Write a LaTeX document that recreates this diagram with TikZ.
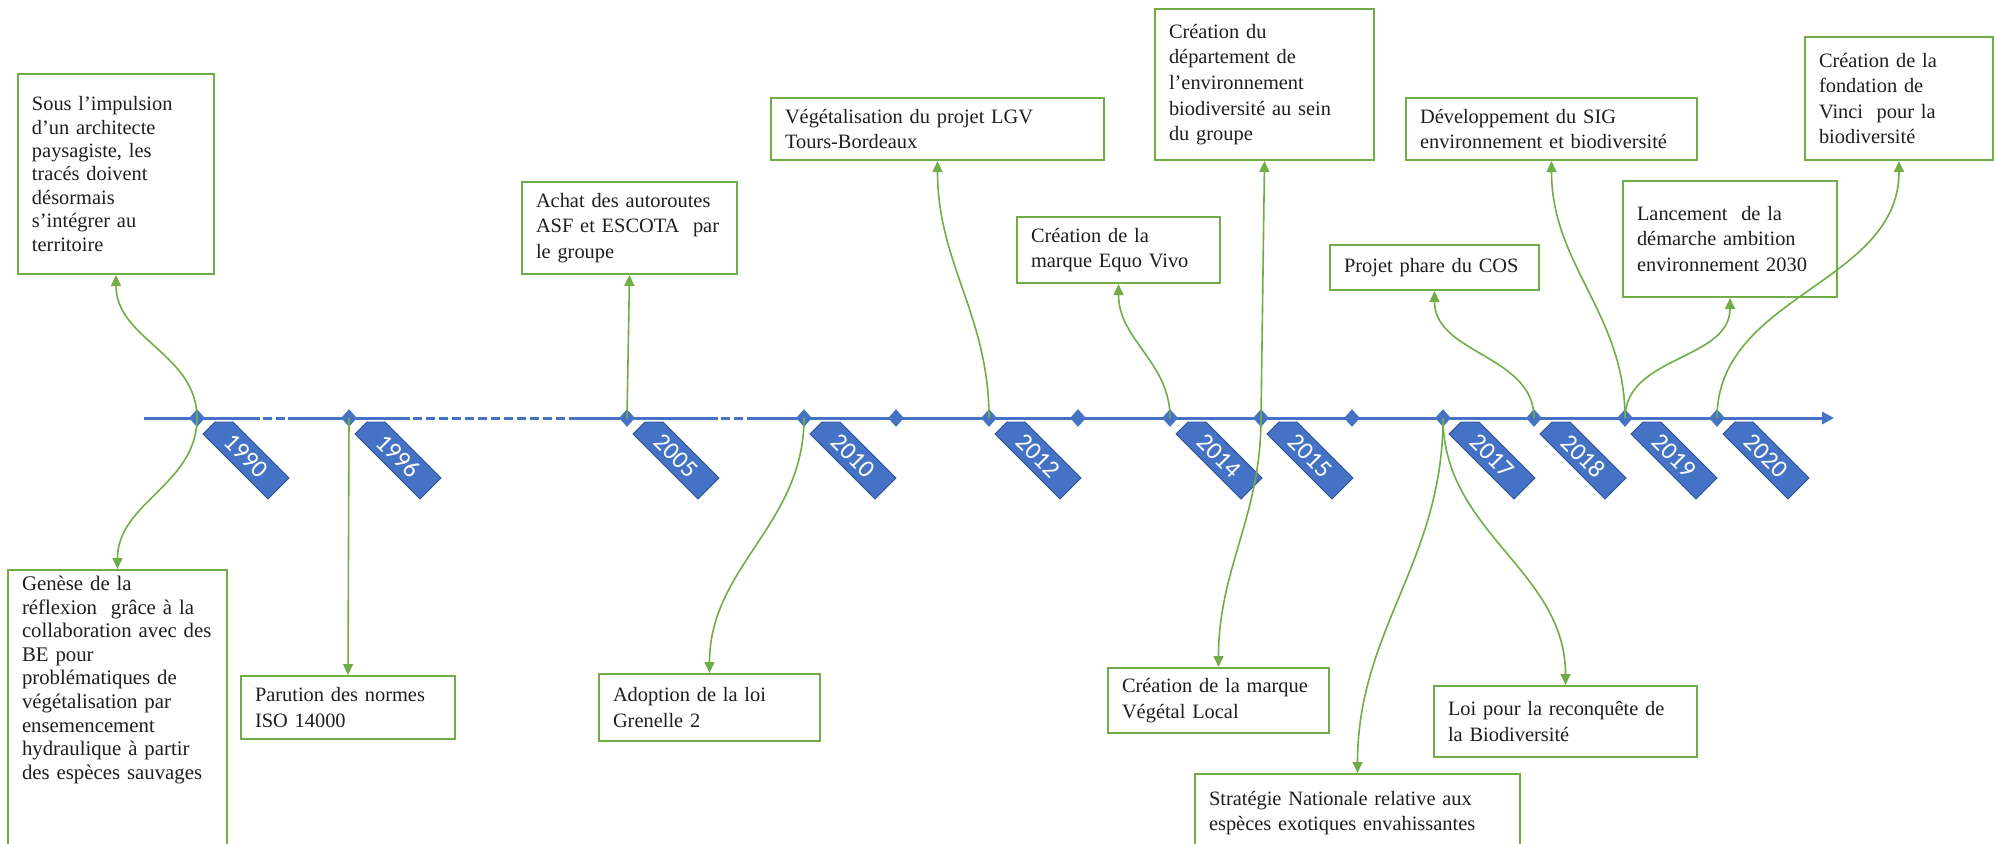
\documentclass[tikz,border=0pt]{standalone}
\usepackage{fontspec}
\setmainfont{Liberation Serif}
\newfontfamily\yearfont{Carlito}
\usetikzlibrary{shapes.geometric,arrows.meta}
\definecolor{axisblue}{HTML}{4472C4}
\definecolor{tagedge}{HTML}{2F528F}
\definecolor{leafgreen}{HTML}{70AD47}
\definecolor{inkgray}{HTML}{1E1E1E}
\tikzstyle{event} = [rectangle, draw=leafgreen, line width=1pt, fill=white,
    anchor=north west, inner xsep=7pt, inner ysep=4pt, align=left, text=inkgray,
    font=\fontsize{10.2}{12.8}\selectfont]
\tikzstyle{yeardot} = [diamond, fill=axisblue, inner sep=0pt, minimum width=8pt, minimum height=9pt]
\tikzstyle{yeartag} = [fill=axisblue, draw=tagedge, line width=0.4pt]
\tikzstyle{axisline} = [draw=axisblue, line width=1.5pt]
\tikzstyle{link} = [draw=leafgreen, line width=0.8pt, -{Triangle[length=5.5pt,width=5pt]}]

\begin{document}
\begin{tikzpicture}[x=0.5pt, y=0.5pt]
	\useasboundingbox (0,0) rectangle (1995,-843);

	% axe du temps
	\coordinate (tl0) at (144,-418);
	\coordinate (tl1) at (1834,-418);
	\draw[axisline, -{Triangle[length=6pt,width=6pt]}] (tl0) -- (260,-418) (288,-418) -- (410,-418)
		(575,-418) -- (718,-418) (748,-418) -- (tl1);
	\draw[axisline, dash pattern=on 4.5pt off 2pt, dash phase=-1.5pt] (260,-418) -- (288,-418)
		(410,-418) -- (575,-418) (718,-418) -- (748,-418);

	\foreach \yr/\xx in {1990/197, 1996/349, 2005/627, 2010/804, 2011/896, 2012/989, 2013/1078,
		2014/1170, 2015/1261, 2016/1352, 2017/1443, 2018/1534, 2019/1625, 2020/1717}
		\node[yeardot] (d\yr) at (\xx,-418) {};

	\foreach \yr in {1990,1996,2005,2010,2012,2014,2015,2017,2018,2019,2020}{
		\begin{scope}[shift={(d\yr.center)}]
			\filldraw[yeartag] (6,-16) -- (18,-4) -- (36,-4) -- (92,-60) -- (71,-81) -- cycle;
			\node[rotate=-45, text=white, font=\yearfont\fontsize{12.5}{12.5}\selectfont] (t\yr) at (49,-38) {\yr};
		\end{scope}
	}

	% evenements
	\node[event, text width=84pt, minimum height=100pt, font=\fontsize{10.2}{11.7}\selectfont] (imp) at (17,-73)
		{Sous l’impulsion\\d’un architecte\\paysagiste, les\\tracés doivent\\désormais\\s’intégrer au\\territoire};
	\node[event, text width=95.5pt, inner ysep=3pt, font=\fontsize{10.4}{11.8}\selectfont] (gen) at (7,-569)
		{Genèse de la\\réflexion \ grâce à la\\collaboration avec des\\BE pour\\problématiques de\\végétalisation par\\ensemencement\\hydraulique à partir\\des espèces sauvages\\[24pt]\mbox{}};
	\node[event, text width=93pt, minimum height=31.5pt] (par) at (240,-675) {Parution des normes\\ISO 14000};
	\node[event, text width=93.5pt, minimum height=46pt] (ach) at (521,-181) {Achat des autoroutes\\ASF et ESCOTA \ par\\le groupe};
	\node[event, text width=96.5pt, minimum height=33.5pt] (ado) at (598,-673) {Adoption de la loi\\Grenelle 2};
	\node[event, text width=152.5pt, minimum height=31pt] (veg) at (770,-97) {Végétalisation du projet LGV\\Tours-Bordeaux};
	\node[event, text width=87.5pt, minimum height=33pt] (equ) at (1016,-216) {Création de la\\marque Equo Vivo};
	\node[event, text width=95.5pt, minimum height=75.5pt] (dep) at (1154,-8)
		{Création du\\département de\\l’environnement\\biodiversité au sein\\du groupe};
	\node[event, text width=96.5pt, minimum height=32.5pt] (vgl) at (1107,-667) {Création de la marque\\Végétal Local};
	\node[event, text width=148.5pt, minimum height=39pt] (str) at (1194,-773)
		{Stratégie Nationale relative aux\\espèces exotiques envahissantes};
	\node[event, text width=117.5pt, minimum height=35.5pt] (loi) at (1433,-685) {Loi pour la reconquête de\\la Biodiversité};
	\node[event, text width=90.5pt, minimum height=22.5pt] (cos) at (1329,-244) {Projet phare du COS};
	\node[event, text width=131.5pt, minimum height=31pt] (sig) at (1405,-97) {Développement du SIG\\environnement et biodiversité};
	\node[event, text width=93pt, minimum height=58pt] (lan) at (1622,-180) {Lancement \ de la\\démarche ambition\\environnement 2030};
	\node[event, text width=80pt, minimum height=61.5pt] (fon) at (1804,-36) {Création de la\\fondation de\\Vinci \ pour la\\biodiversité};

	% liens
	\path[link] (d1990.center) to[out=90,in=-90] (imp.south);
	\path[link] (d1990.center) to[out=-90,in=90] (gen.north);
	\path[link] (d1996.center) -- (par.north);
	\path[link] (d2005.center) -- (ach.south);
	\path[link] (d2010.center) to[out=-90,in=90] (ado.north);
	\path[link] (d2012.center) to[out=90,in=-90] (veg.south);
	\path[link] (d2014.center) to[out=90,in=-90] (equ.south);
	\path[link] (d2015.center) -- (dep.south);
	\path[link] (d2015.center) to[out=-90,in=90] (vgl.north);
	\path[link] (d2017.center) to[out=-90,in=90] (str.north);
	\path[link] (d2017.center) to[out=-90,in=90] (loi.north);
	\path[link] (d2018.center) to[out=90,in=-90] (cos.south);
	\path[link] (d2019.center) to[out=90,in=-90] (sig.south);
	\path[link] (d2019.center) to[out=90,in=-90] (lan.south);
	\path[link] (d2020.center) to[out=90,in=-90] (fon.south);
\end{tikzpicture}
\end{document}
